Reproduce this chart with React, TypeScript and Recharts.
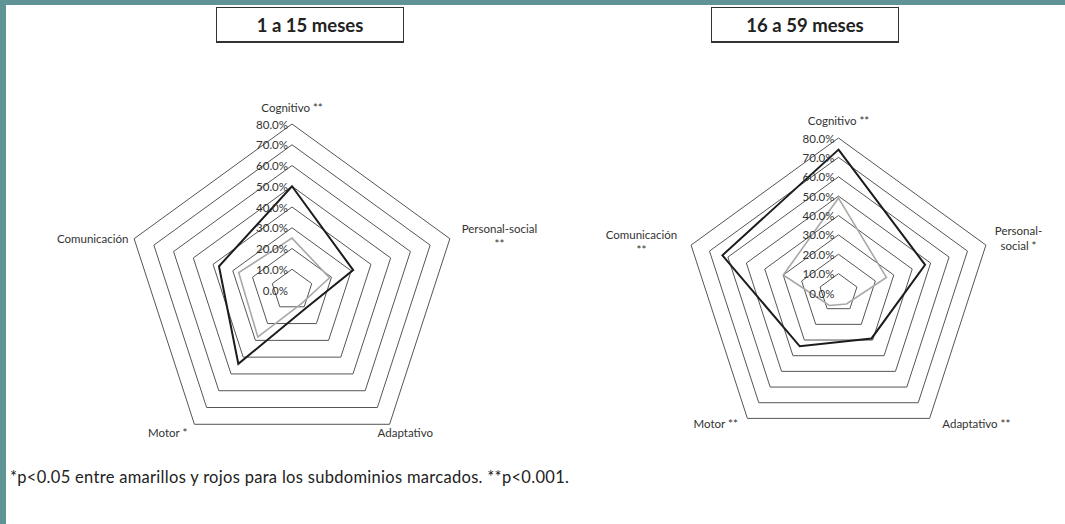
import React from "react";
import {
  RadarChart,
  Radar,
  PolarGrid,
  PolarAngleAxis,
  PolarRadiusAxis,
} from "recharts";

// subdominios del desarrollo, en sentido horario desde arriba
const subdominios = ["Cognitivo", "Personal-social", "Adaptativo", "Motor", "Comunicación"];

// 1 a 15 meses
const rojos1 = [50, 31, 11, 44, 37];
const amarillos1 = [25, 19, 8, 28, 27];
const etiquetas1 = [["Cognitivo **"], ["Personal-social", "**"], ["Adaptativo"], ["Motor *"], ["Comunicación"]];

// 16 a 59 meses
const rojos2 = [74, 47, 29, 34, 63];
const amarillos2 = [49, 26, 7, 8, 30];
const etiquetas2 = [["Cognitivo **"], ["Personal-", "social *"], ["Adaptativo **"], ["Motor **"], ["Comunicación", "**"]];

const radiusTicks = [0, 10, 20, 30, 40, 50, 60, 70, 80];

const titulo1 = "1 a 15 meses";
const titulo2 = "16 a 59 meses";
const nota = "*p<0.05 entre amarillos y rojos para los subdominios marcados. **p<0.001.";

const FONT = "Lato, 'Open Sans', sans-serif";
const TEAL = "#5f9395";

// label offsets from the default tick point (outerRadius + 8)
const pos1 = [
  { dx: 0, dy: -9, anchor: "middle" },
  { dx: 42, dy: -8, anchor: "middle" },
  { dx: 11, dy: 2, anchor: "middle" },
  { dx: -22, dy: 2, anchor: "middle" },
  { dx: 2, dy: 2, anchor: "end" },
];
const pos2 = [
  { dx: 0, dy: -10, anchor: "middle" },
  { dx: 25, dy: -12, anchor: "middle" },
  { dx: 42, dy: -1, anchor: "middle" },
  { dx: -27, dy: -1, anchor: "middle" },
  { dx: -42, dy: -8, anchor: "middle" },
];

const buildData = (rojos: number[], amarillos: number[]) =>
  subdominios.map((s, i) => ({ subdominio: s, rojos: rojos[i], amarillos: amarillos[i] }));

const makeAngleTick = (labels: string[][], pos: any[]) => (props: any) => {
  const { x, y, payload } = props;
  const i = subdominios.indexOf(payload.value);
  const p = pos[i];
  return (
    <g>
      {labels[i].map((line, k) => (
        <text
          key={k}
          x={x + p.dx}
          y={y + p.dy + k * 15}
          textAnchor={p.anchor}
          dominantBaseline="central"
          fontSize={11.5}
          fontFamily={FONT}
          fill="#333"
        >
          {line}
        </text>
      ))}
    </g>
  );
};

const RadiusTick = (props: any) => {
  const { x, y, payload } = props;
  return (
    <text
      x={x - 4}
      y={y}
      textAnchor="end"
      dominantBaseline="central"
      fontSize={11.5}
      fontFamily={FONT}
      fill="#333"
    >
      {`${Number(payload.value).toFixed(1)}%`}
    </text>
  );
};

interface PanelProps {
  rojos: number[];
  amarillos: number[];
  labels: string[][];
  pos: any[];
  width: number;
  cx: number;
  cy: number;
  radius: number;
}

const Panel = ({ rojos, amarillos, labels, pos, width, cx, cy, radius }: PanelProps) => {
  const data = buildData(rojos, amarillos);
  return (
    <RadarChart
      width={width}
      height={465}
      data={data}
      cx={cx}
      cy={cy}
      outerRadius={radius}
      margin={{ top: 0, right: 0, bottom: 0, left: 0 }}
    >
      <PolarGrid gridType="polygon" radialLines={false} stroke="#555" strokeWidth={1} />
      <PolarAngleAxis
        dataKey="subdominio"
        tick={makeAngleTick(labels, pos)}
        tickLine={false}
        axisLine={false}
      />
      <PolarRadiusAxis
        type="number"
        angle={90}
        domain={[0, 80]}
        ticks={radiusTicks as any}
        tickCount={9}
        axisLine={false}
        tick={<RadiusTick />}
      />
      <Radar
        dataKey="amarillos"
        stroke="#a8a8a8"
        strokeWidth={1.6}
        fill="none"
        fillOpacity={0}
        dot={false}
        isAnimationActive={false}
      />
      <Radar
        dataKey="rojos"
        stroke="#1c1c1c"
        strokeWidth={2}
        fill="none"
        fillOpacity={0}
        dot={false}
        isAnimationActive={false}
      />
    </RadarChart>
  );
};

const TitleBox = ({ text, left }: { text: string; left: number }) => (
  <div
    style={{
      position: "absolute",
      left,
      top: 7,
      width: 186,
      height: 33,
      border: "1.5px solid #333",
      borderBottomWidth: 2.5,
      display: "flex",
      alignItems: "center",
      justifyContent: "center",
      fontWeight: 700,
      fontSize: 18.5,
      color: "#222",
      fontFamily: FONT,
    }}
  >
    {text}
  </div>
);

export default function App() {
  return (
    <div
      style={{
        position: "fixed",
        left: 0,
        top: 0,
        width: 1065,
        height: 524,
        background: "#fff",
        fontFamily: FONT,
        overflow: "hidden",
      }}
    >
      <div style={{ position: "absolute", left: 0, top: 0, width: 1065, height: 5, background: TEAL }} />
      <div style={{ position: "absolute", left: 0, top: 0, width: 6, height: 524, background: TEAL }} />

      <TitleBox text={titulo1} left={216} />
      <TitleBox text={titulo2} left={711} />

      <div style={{ position: "absolute", left: 0, top: 0 }}>
        <Panel
          rojos={rojos1}
          amarillos={amarillos1}
          labels={etiquetas1}
          pos={pos1}
          width={560}
          cx={292}
          cy={290}
          radius={166}
        />
      </div>
      <div style={{ position: "absolute", left: 560, top: 0 }}>
        <Panel
          rojos={rojos2}
          amarillos={amarillos2}
          labels={etiquetas2}
          pos={pos2}
          width={505}
          cx={278.5}
          cy={293}
          radius={155}
        />
      </div>

      <div
        style={{
          position: "absolute",
          left: 10,
          top: 467,
          fontSize: 16.5,
          letterSpacing: 0.3,
          color: "#222",
          fontFamily: FONT,
          whiteSpace: "nowrap",
        }}
      >
        {nota}
      </div>
    </div>
  );
}
